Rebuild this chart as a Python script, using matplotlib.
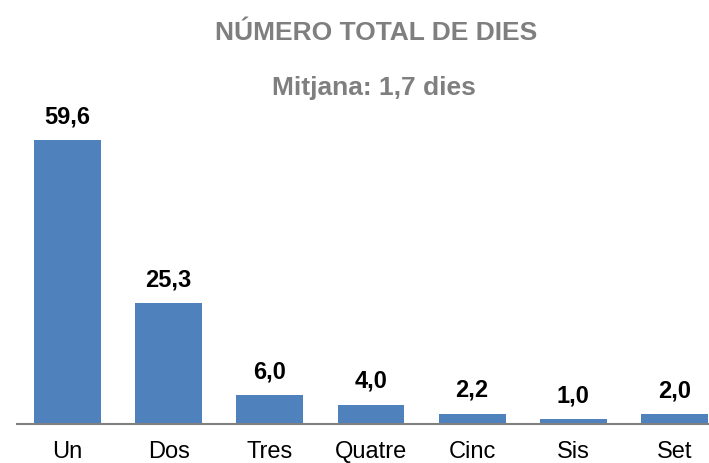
import numpy as np
import matplotlib.pyplot as plt

plt.rcParams['font.family'] = ['Liberation Sans', 'DejaVu Sans']

categories = ['Un', 'Dos', 'Tres', 'Quatre', 'Cinc', 'Sis', 'Set']
values = [59.6, 25.3, 6.0, 4.0, 2.2, 1.0, 2.0]
title = 'NÚMERO TOTAL DE DIES'
subtitle = 'Mitjana: 1,7 dies'

W, H = 709, 463
fig = plt.figure(figsize=(W / 100, H / 100), dpi=100)
# axes extends a bit past the right edge, like the original
ax = fig.add_axes([17 / W, 39 / H, 708 / W, 333.6 / H])

x = np.arange(len(categories))
ax.bar(x, values, width=0.66, color='#4F81BD')

for xi, v in zip(x, values):
    ax.annotate(f'{v:.1f}'.replace('.', ','), (xi, v), xytext=(0, 12.2),
                textcoords='offset points', ha='center', va='baseline',
                fontsize=17, fontweight='bold', color='black')

ax.set_xlim(-0.5, len(categories) - 0.5)
ax.set_ylim(0, 70)
ax.set_xticks(x)
ax.set_xticklabels(categories, fontsize=17)
ax.tick_params(axis='x', length=0, pad=12.5)
ax.set_yticks([])
for s in ['top', 'right', 'left']:
    ax.spines[s].set_visible(False)
ax.spines['bottom'].set_color('#808080')
ax.spines['bottom'].set_linewidth(1.5)

fig.text(376 / W, 1 - 40 / H, title, ha='center', va='baseline',
         fontsize=19, fontweight='bold', color='#7F7F7F')
fig.text(374 / W, 1 - 95 / H, subtitle, ha='center', va='baseline',
         fontsize=19, fontweight='bold', color='#7F7F7F')

fig.savefig('out.png', dpi=100)
